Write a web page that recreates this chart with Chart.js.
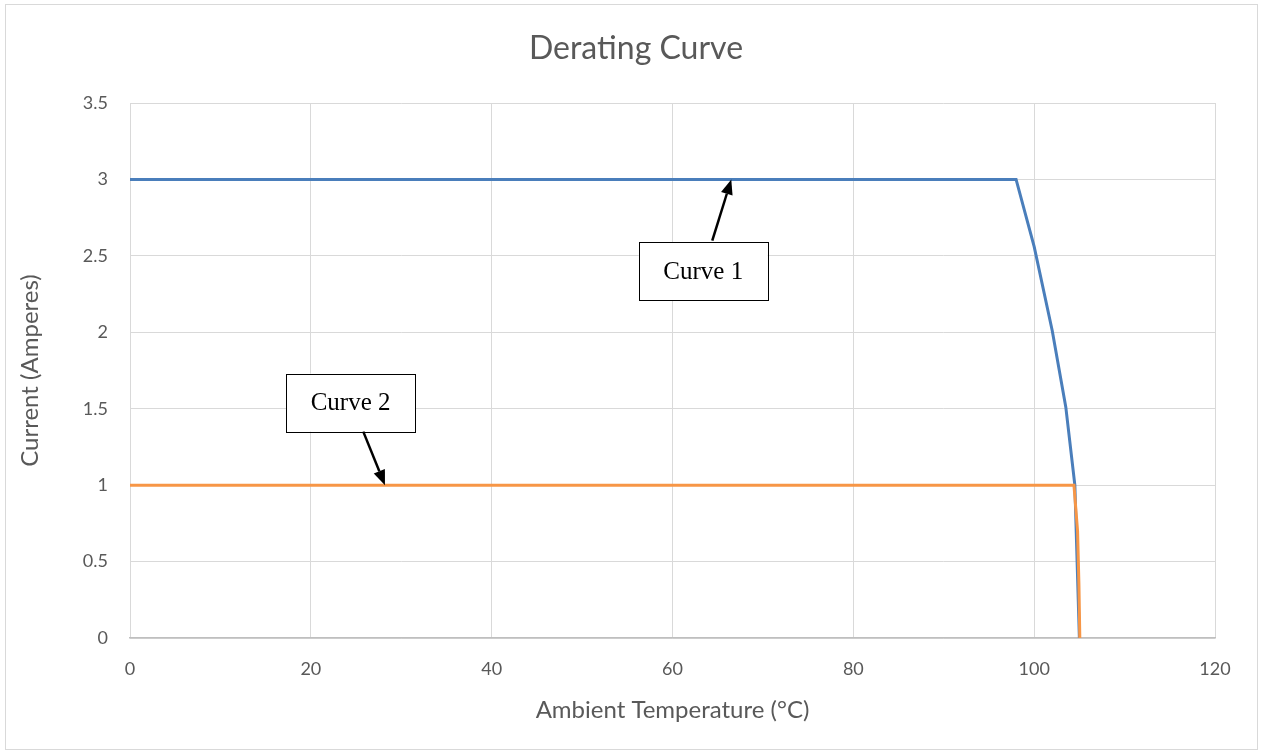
<!DOCTYPE html>
<html>
<head>
<meta charset="utf-8">
<title>Derating Curve</title>
<script src="https://cdn.jsdelivr.net/npm/chart.js@4/dist/chart.umd.min.js"></script>
<style>
    html, body { margin: 0; padding: 0; background: #ffffff; }
    #wrap { width: 1262px; height: 753px; position: relative; }
</style>
</head>
<body>
<div id="wrap"><canvas id="derating-chart"></canvas></div>
<script>
// Values
const curve1Temp = [0, 98, 100, 102, 103.5, 104.5, 105];
const curve1Current = [3, 3, 2.56, 2.01, 1.51, 1.0, 0];

const curve2Temp = [0, 104.4, 104.8, 104.95, 105.05];
const curve2Current = [1, 1, 0.7, 0.35, 0];

const xTicks = [0, 20, 40, 60, 80, 100, 120];
const yTicks = [0, 0.5, 1, 1.5, 2, 2.5, 3, 3.5];

// Callout labels: box centre and arrow tail/tip in data units
const callouts = [
    { text: 'Curve 1', box: [63.4, 2.40], from: [64.4, 2.60], to: [66.5, 3.0] },
    { text: 'Curve 2', box: [24.4, 1.54], from: [25.8, 1.35], to: [28.2, 1.0] }
];

const toPoints = (xs, ys) => xs.map((x, i) => ({ x: x, y: ys[i] }));

const FONT = 'Lato, "Open Sans", sans-serif';
const GREY = '#595959';

const calloutPlugin = {
    id: 'callouts',
    afterDatasetsDraw(chart) {
        const ctx = chart.ctx;
        const xs = chart.scales.x;
        const ys = chart.scales.y;
        callouts.forEach(c => {
            const bx = xs.getPixelForValue(c.box[0]);
            const by = ys.getPixelForValue(c.box[1]);
            const w = 129, h = 58;
            ctx.save();
            ctx.fillStyle = '#ffffff';
            ctx.strokeStyle = '#000000';
            ctx.lineWidth = 1;
            ctx.fillRect(bx - w / 2, by - h / 2, w, h);
            ctx.strokeRect(Math.round(bx - w / 2) + 0.5, Math.round(by - h / 2) + 0.5, w, h);
            ctx.fillStyle = '#000000';
            ctx.font = '25px "Liberation Serif", "Times New Roman", serif';
            ctx.textAlign = 'center';
            ctx.textBaseline = 'middle';
            ctx.fillText(c.text, bx, by + 1);

            // arrow
            const x1 = xs.getPixelForValue(c.from[0]);
            const y1 = ys.getPixelForValue(c.from[1]);
            const x2 = xs.getPixelForValue(c.to[0]);
            const y2 = ys.getPixelForValue(c.to[1]);
            const ang = Math.atan2(y2 - y1, x2 - x1);
            const head = 15, half = 6;
            const hx = x2 - head * Math.cos(ang);
            const hy = y2 - head * Math.sin(ang);
            ctx.lineWidth = 2.5;
            ctx.beginPath();
            ctx.moveTo(x1, y1);
            ctx.lineTo(hx, hy);
            ctx.stroke();
            ctx.beginPath();
            ctx.moveTo(x2, y2);
            ctx.lineTo(hx + half * Math.sin(ang), hy - half * Math.cos(ang));
            ctx.lineTo(hx - half * Math.sin(ang), hy + half * Math.cos(ang));
            ctx.closePath();
            ctx.fill();
            ctx.restore();
        });
    },
    afterDraw(chart) {
        const ctx = chart.ctx;
        ctx.save();
        ctx.strokeStyle = '#d9d9d9';
        ctx.lineWidth = 1;
        ctx.strokeRect(5.5, 4.5, 1252, 745);
        ctx.restore();
    }
};

document.addEventListener('DOMContentLoaded', () => {
    const ctx = document.getElementById('derating-chart').getContext('2d');

    new Chart(ctx, {
        type: 'scatter',
        data: {
            datasets: [
                {
                    label: 'Curve 1',
                    data: toPoints(curve1Temp, curve1Current),
                    showLine: true,
                    borderColor: '#4a7ebb',
                    borderWidth: 3,
                    pointRadius: 0,
                    fill: false,
                    order: 2
                },
                {
                    label: 'Curve 2',
                    data: toPoints(curve2Temp, curve2Current),
                    showLine: true,
                    borderColor: '#f79646',
                    borderWidth: 3,
                    pointRadius: 0,
                    fill: false,
                    order: 1
                }
            ]
        },
        options: {
            responsive: true,
            maintainAspectRatio: false,
            animation: false,
            layout: { padding: { left: 10, right: 0, top: 0, bottom: 0 } },
            plugins: {
                legend: { display: false },
                tooltip: { enabled: false },
                title: {
                    display: true,
                    text: 'Derating Curve',
                    color: GREY,
                    font: { family: FONT, size: 32, weight: 'normal' },
                    padding: { top: 29, bottom: 35.6 }
                }
            },
            scales: {
                x: {
                    type: 'linear',
                    min: 0,
                    max: 120,
                    afterBuildTicks: axis => { axis.ticks = xTicks.map(v => ({ value: v })); },
                    afterFit: axis => { axis.height = 115; },
                    grid: { color: '#d9d9d9', lineWidth: 1, drawTicks: false },
                    border: { display: true, color: '#bfbfbf', width: 1.5 },
                    ticks: {
                        color: GREY,
                        padding: 20,
                        maxRotation: 0,
                        font: { family: FONT, size: 18 }
                    },
                    title: {
                        display: true,
                        text: 'Ambient Temperature (°C)',
                        color: GREY,
                        font: { family: FONT, size: 24 },
                        padding: { top: 12, bottom: 28 }
                    }
                },
                y: {
                    type: 'linear',
                    min: 0,
                    max: 3.5,
                    afterBuildTicks: axis => { axis.ticks = yTicks.map(v => ({ value: v })); },
                    afterFit: axis => { axis.width = 120; },
                    grid: { color: '#d9d9d9', lineWidth: 1, drawTicks: false },
                    border: { display: false },
                    ticks: {
                        color: GREY,
                        padding: 22,
                        font: { family: FONT, size: 18 },
                        callback: v => String(v)
                    },
                    title: {
                        display: true,
                        text: 'Current (Amperes)',
                        color: GREY,
                        font: { family: FONT, size: 24 },
                        padding: { top: 6, bottom: 4 }
                    }
                },
                yRight: {
                    type: 'linear',
                    position: 'right',
                    display: true,
                    afterFit: axis => { axis.width = 47; },
                    grid: { display: false },
                    border: { display: false },
                    ticks: { display: false }
                }
            }
        },
        plugins: [calloutPlugin]
    });
});
</script>
</body>
</html>
